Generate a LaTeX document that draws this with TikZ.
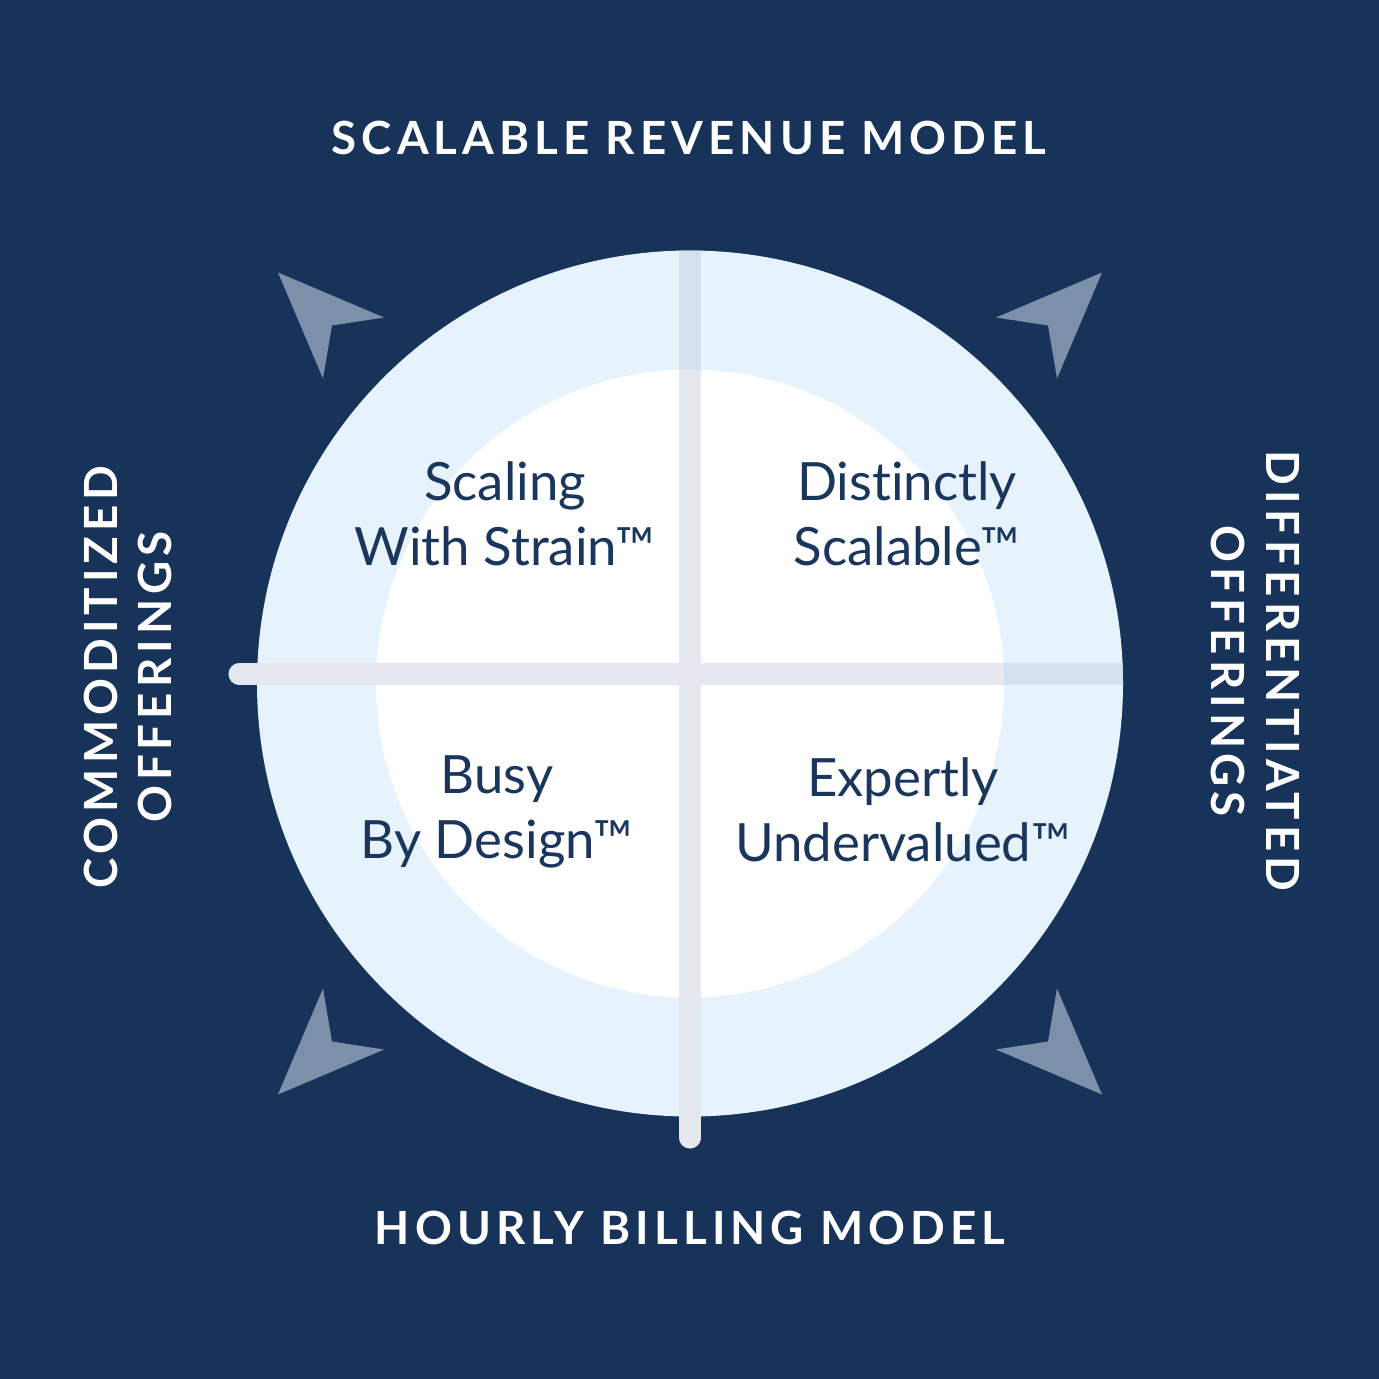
\documentclass[tikz,border=0pt]{standalone}
\usepackage{fontspec}
\setmainfont{Lato}[Ligatures=NoCommon]
\newfontfamily\headfont[LetterSpace=11]{Lato}
\usetikzlibrary{positioning}

\definecolor{bgnavy}{HTML}{17335A}
\definecolor{ringblue}{HTML}{E6F3FD}
\definecolor{bargray}{HTML}{E5E9EF}
\definecolor{ringbar}{HTML}{D3E1EE}
\definecolor{arrowgray}{HTML}{7C90A9}
\definecolor{textnavy}{HTML}{1A365D}

\tikzset{
  quadlabel/.style={text=textnavy,align=center,font=\fontsize{15}{18.5}\selectfont},
  axislabel/.style={text=white,align=center,font=\headfont\bfseries\fontsize{13}{15.6}\selectfont},
  axisbar/.style={line width=6pt,line cap=round},
  cornerarrow/.style={fill=arrowgray}
}

\begin{document}
\begin{tikzpicture}[x=0.01cm,y=-0.01cm,line join=round]
  \useasboundingbox (0,0) rectangle (1379,1379);
  \fill[bgnavy] (0,0) rectangle (1379,1379);

  % circle and inner disc
  \coordinate (mid) at (690,683.5);
  \coordinate (cross) at (690,674);
  \fill[ringblue] (mid) circle (433);
  \fill[white] (mid) circle (314);

  % axes
  \coordinate (westend) at (239,674);
  \coordinate (southend) at (690,1138);
  \coordinate (northend) at (690,200);
  \coordinate (eastend) at (1200,674);
  \begin{scope}
    \clip (mid) circle (433);
    \draw[axisbar,ringbar,line cap=butt] (cross) -- (northend);
    \draw[axisbar,ringbar,line cap=butt] (cross) -- (eastend);
  \end{scope}
  \begin{scope}
    \clip (mid) circle (314);
    \draw[axisbar,bargray,line cap=butt] (cross) -- (northend);
    \draw[axisbar,bargray,line cap=butt] (cross) -- (eastend);
  \end{scope}
  \draw[axisbar,bargray] (cross) -- (southend);
  \draw[axisbar,bargray] (westend) -- (cross);

  % corner arrows
  \foreach \sx/\sy in {1/1,-1/1,1/-1,-1/-1} {
    \begin{scope}[shift={(mid)},xscale=\sx,yscale=\sy]
      \fill[cornerarrow] (-412,-411) -- (-306,-366) -- (-358,-358) -- (-367,-305) -- cycle;
    \end{scope}
  }

  % axis labels
  \node[axislabel] (revenue) at (689,138) {SCALABLE REVENUE MODEL};
  \node[axislabel] (hourly) at (690,1228) {HOURLY BILLING MODEL};
  \node[axislabel,rotate=90] (commodity) at (128,677) {COMMODITIZED\\OFFERINGS};
  \node[axislabel,rotate=-90] (different) at (1255,671) {DIFFERENTIATED\\OFFERINGS};

  % quadrants
  \node[quadlabel] (strain) at (505,514) {Scaling\\With Strain™};
  \node[quadlabel] (distinct) at (907,514) {Distinctly\\Scalable™};
  \node[quadlabel] (busy) at (497,812) {Busy\\By Design™};
  \node[quadlabel] (expert) at (903,810) {Expertly\\Undervalued™};
\end{tikzpicture}
\end{document}
